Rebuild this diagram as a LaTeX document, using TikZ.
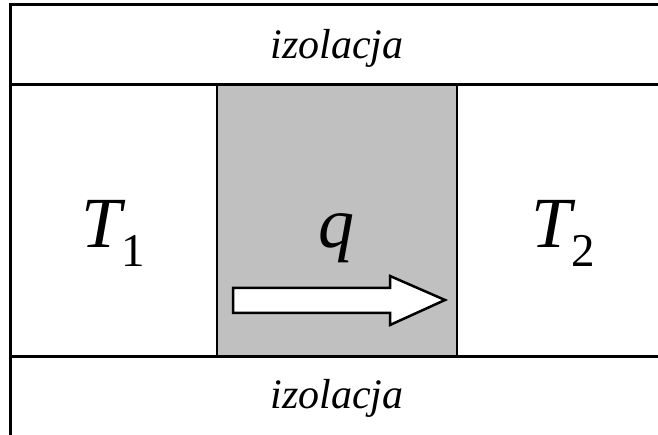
\documentclass[tikz,border=0pt]{standalone}
\usepackage{fontspec}
\setmainfont{Liberation Serif}
\definecolor{boxgray}{RGB}{192,192,192}
\begin{document}
\begin{tikzpicture}[x=1pt,y=1pt,
  wall/.style={line width=3pt},
  thin wall/.style={line width=2.5pt},
  label/.style={inner sep=0pt,anchor=base},
  insul/.style={label,font=\fontsize{42}{42}\selectfont\itshape},
  big/.style={label,font=\fontsize{72}{72}\selectfont}]
\useasboundingbox (0,0) rectangle (658,435);
\begin{scope}
\clip (0,0) rectangle (658,435);
\fill[boxgray] (217,78) rectangle (457,350);
\draw[wall] (10,-5) -- (10,430) -- (670,430);
\draw[wall] (10,350) -- (670,350);
\draw[wall] (10,78) -- (670,78);
\draw[thin wall] (217,78) -- (217,350);
\draw[thin wall] (457,78) -- (457,350);
\draw[thin wall, fill=white, line join=miter]
  (233,147) -- (390,147) -- (390,159) -- (445,135) -- (390,110) -- (390,122) -- (233,122) -- cycle;
\end{scope}
\node[insul] (top) at (337,376) {izolacja};
\node[insul] (bot) at (337,26) {izolacja};
\node[big] (t1) at (113,187) {\textit{T}\kern-4pt\raisebox{-19pt}{\fontsize{47}{47}\selectfont 1}};
\node[big] (t2) at (563,187) {\textit{T}\kern-4pt\raisebox{-19pt}{\fontsize{47}{47}\selectfont 2}};
\node[big] (q) at (336,187) {\textit{q}};
\end{tikzpicture}
\end{document}
